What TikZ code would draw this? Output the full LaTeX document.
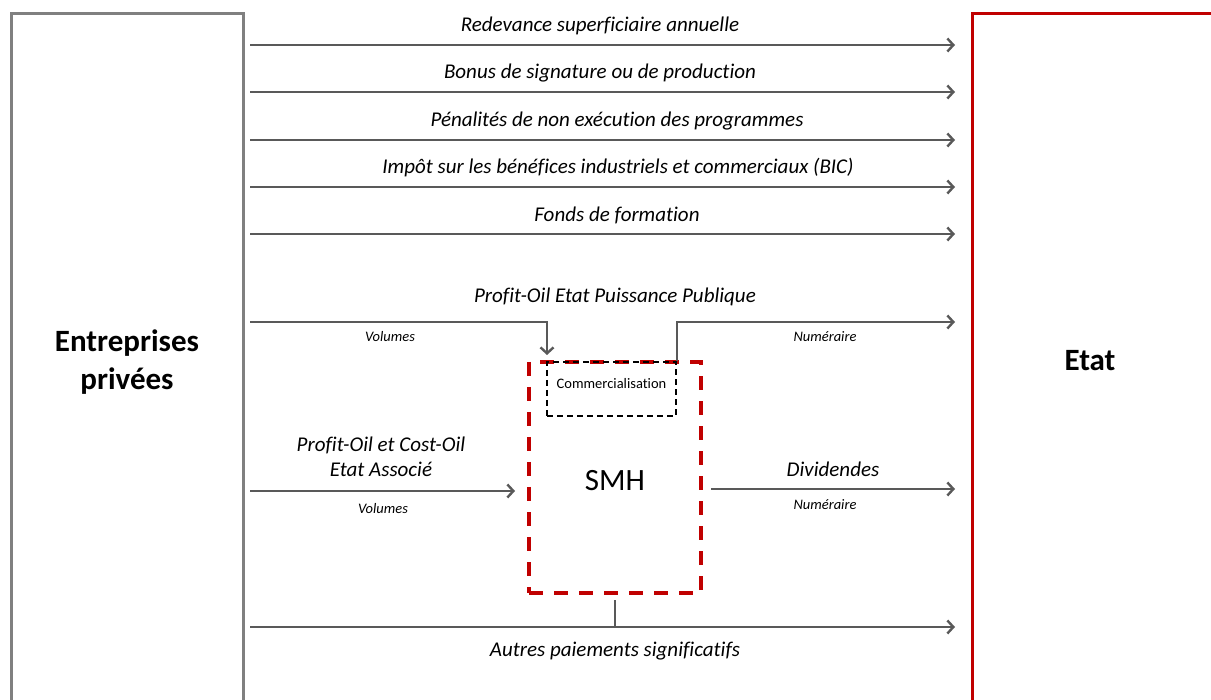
\documentclass[tikz,border=0pt]{standalone}
\usepackage{fontspec}
\setmainfont{Carlito}[Ligatures=NoCommon]
\usetikzlibrary{arrows.meta}
\definecolor{boxgray}{HTML}{808080}
\definecolor{arrgray}{HTML}{595959}
\definecolor{etatred}{HTML}{C00000}
\tikzset{
  flow/.style={draw=arrgray, line width=2.4pt, -{Straight Barb[length=6pt,width=13pt]}},
  plain/.style={draw=arrgray, line width=2.4pt},
  lab/.style={font=\fontsize{21}{25}\selectfont\itshape, inner sep=0pt},
  small/.style={font=\fontsize{14.5}{17}\selectfont\itshape, inner sep=0pt},
  big/.style={font=\fontsize{31}{38}\selectfont\bfseries, inner sep=0pt, align=center},
  smhbox/.style={draw=etatred, line width=3.2pt, dash pattern=on 14pt off 11pt, minimum width=172pt, minimum height=231pt, inner sep=0pt},
  commbox/.style={draw=black, line width=2pt, dash pattern=on 6pt off 4pt, minimum width=129pt, minimum height=54pt, inner sep=0pt},
}
\begin{document}
\begin{tikzpicture}[x=1pt,y=-1pt]
\useasboundingbox (0,0) rectangle (1211,700);
% side boxes
\draw[boxgray, line width=3pt] (11,710) -- (11,14) -- (243,14) -- (243,710);
\draw[etatred, line width=3pt] (1220,14) -- (972,14) -- (972,710);
\node[big] (ent) at (127,362) {Entreprises\\privées};
\node[big] (etat) at (1090,361) {Etat};
% top arrows
\foreach \i/\y/\x/\t in {1/45/600/Redevance superficiaire annuelle,
                      2/92/600/Bonus de signature ou de production,
                      3/140/617/Pénalités de non exécution des programmes,
                      4/187/618/Impôt sur les bénéfices industriels et commerciaux (BIC),
                      5/234/617/Fonds de formation}{
  \coordinate (s\i) at (250,\y);
  \coordinate (e\i) at (955,\y);
  \draw[flow] (s\i) -- (e\i);
  \node[lab] (l\i) at (\x,\y-19) {\t};
}
% SMH and commercialisation
\node[smhbox] (smh) at (615,477.5) {};
\node[font=\fontsize{31}{34}\selectfont, inner sep=0pt] (smht) at (615,481) {SMH};
\node[commbox] (comm) at (611.5,389) {};
\node[font=\fontsize{14.5}{17}\selectfont, inner sep=0pt] (commt) at (611.5,384) {Commercialisation};
% Profit-Oil Etat Puissance Publique
\coordinate (s6) at (250,322);
\coordinate (k6) at (547,322);
\coordinate (t6) at (547,355);
\draw[flow] (s6) -- (k6) -- (t6);
\coordinate (e6) at (955,322);
\draw[flow] (comm.north east) |- (e6);
\node[lab] (l6) at (615,297) {Profit-Oil Etat Puissance Publique};
\node[small] (v6) at (390,337) {Volumes};
\node[small] (n6) at (825,337) {Numéraire};
% Profit-Oil et Cost-Oil Etat Associe
\coordinate (s7) at (250,491);
\coordinate (e7) at (515,491);
\draw[flow] (s7) -- (e7);
\node[lab, align=center] (l7) at (381,457) {Profit-Oil et Cost-Oil\\Etat Associé};
\node[small] (v7) at (383,509) {Volumes};
% Dividendes
\coordinate (s8) at (711,489);
\coordinate (e8) at (955,489);
\draw[flow] (s8) -- (e8);
\node[lab] (l8) at (833,469) {Dividendes};
\node[small] (n8) at (825,505) {Numéraire};
% Autres paiements
\coordinate (s9) at (250,627);
\coordinate (e9) at (955,627);
\coordinate (j9) at (615,627);
\coordinate (b9) at (615,600);
\draw[flow] (s9) -- (e9);
\draw[plain] (b9) -- (j9);
\node[lab] (l9) at (615,651) {Autres paiements significatifs};
\end{tikzpicture}
\end{document}
